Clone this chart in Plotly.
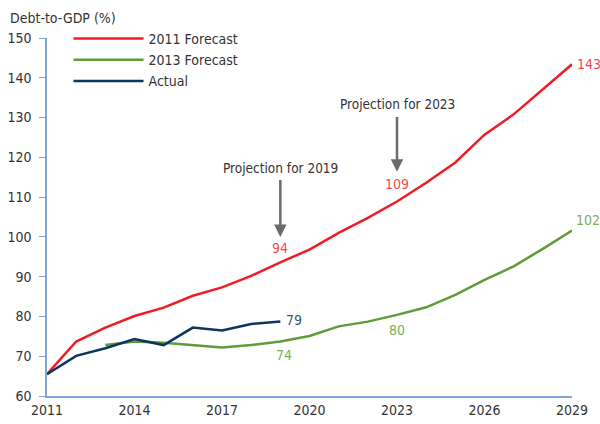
import plotly.graph_objects as go

# Debt-to-GDP (%) by year
years = list(range(2011, 2030))
forecast_2011 = [65.5, 73.7, 77.2, 80.1, 82.2, 85.2, 87.3, 90.2, 93.6, 96.8,
                 101.0, 104.8, 108.9, 113.6, 118.7, 125.7, 130.8, 137.0, 143.4]
years_2013 = list(range(2013, 2030))
forecast_2013 = [72.8, 73.7, 73.4, 72.8, 72.2, 72.8, 73.7, 75.1, 77.5, 78.7,
                 80.4, 82.3, 85.4, 89.2, 92.6, 97.0, 101.6]
years_actual = list(range(2011, 2020))
actual = [65.5, 70.1, 72.0, 74.3, 72.8, 77.2, 76.5, 78.1, 78.7]

tick_years = [2011, 2014, 2017, 2020, 2023, 2026, 2029]

RED = "#ee1c25"
GREEN = "#5e9c3a"
NAVY = "#0c3660"
AXIS = "#7ea4da"
FONT = "DejaVu Sans Condensed, Roboto, sans-serif"

fig = go.Figure()
fig.add_trace(go.Scatter(x=years, y=forecast_2011, mode="lines", name="2011 Forecast",
                         line=dict(color=RED, width=2.5)))
fig.add_trace(go.Scatter(x=years_2013, y=forecast_2013, mode="lines", name="2013 Forecast",
                         line=dict(color=GREEN, width=2.5)))
fig.add_trace(go.Scatter(x=years_actual, y=actual, mode="lines", name="Actual",
                         line=dict(color=NAVY, width=2.5)))

# value labels
labels = [
    (2019, 97.1, "94", "#f04a4f", "center", 0),
    (2023, 113.3, "109", "#f04a4f", "center", 0),
    (2029, 143.4, "143", "#f04a4f", "left", 3),
    (2029, 104.3, "102", "#7dae5c", "left", 2),
    (2023, 76.6, "80", "#7dae5c", "center", 0),
    (2019, 70.2, "74", "#7dae5c", "center", 4),
    (2019, 79.0, "79", "#34587f", "left", 4),
]
for x, y, t, c, anchor, shift in labels:
    fig.add_annotation(x=x, y=y, text=t, showarrow=False, xanchor=anchor, xshift=shift,
                       font=dict(color=c, size=14, family=FONT))

# projection callouts
for yr, text_y, tail, tip in [(2019, 117.4, 114.7, 100.0), (2023, 133.3, 130.5, 116.4)]:
    fig.add_annotation(x=yr, y=text_y, text=f"Projection for {yr}", showarrow=False,
                       font=dict(color="#333333", size=13.5, family=FONT))
    fig.add_annotation(x=yr, y=tip, ax=yr, ay=tail, axref="x", ayref="y", text="",
                       showarrow=True, arrowhead=2, arrowsize=1, arrowwidth=2.5,
                       arrowcolor="#6b6b6b")

fig.add_annotation(x=0, y=1, xref="paper", yref="paper", xanchor="left", yanchor="middle",
                   xshift=-39, yshift=20, text="Debt-to-GDP (%)", showarrow=False,
                   font=dict(color="#333333", size=14, family=FONT))

fig.update_layout(
    width=600, height=424,
    margin=dict(l=47, r=28, t=38, b=28, autoexpand=False),
    paper_bgcolor="white", plot_bgcolor="white",
    font=dict(family=FONT, size=14, color="#333333"),
    showlegend=True,
    legend=dict(x=0.041, y=0.946, xref="paper", yref="container",
                xanchor="left", yanchor="top", itemwidth=70,
                bgcolor="rgba(0,0,0,0)", font=dict(size=14, color="#333333")),
    xaxis=dict(range=[2011, 2029], tickvals=tick_years, showgrid=False, zeroline=False,
               showline=True, linecolor=AXIS, linewidth=1.5, ticks="", ticklen=0),
    yaxis=dict(range=[60, 150], dtick=10, showgrid=False, zeroline=False,
               showline=True, linecolor=AXIS, linewidth=1.5, ticks="outside",
               ticklen=6, tickcolor=AXIS, ticklabelstandoff=5),
)

page_css = ("document.documentElement.style.overflow='hidden';"
            "document.body.style.margin='0';"
            "document.body.style.height='424px';"
            "document.body.style.overflow='hidden';")
fig.write_html("out.html", config={"displayModeBar": False}, post_script=page_css)
